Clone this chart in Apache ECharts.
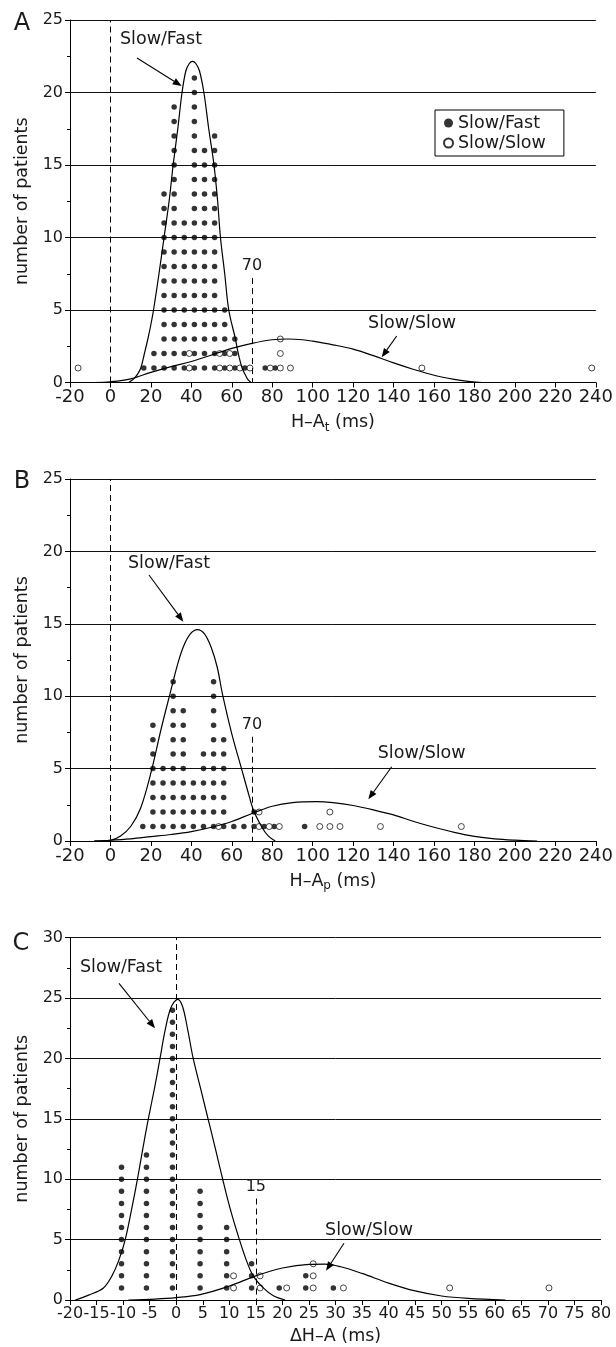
<!DOCTYPE html>
<html>
<head>
<meta charset="utf-8">
<script src="https://cdn.jsdelivr.net/npm/echarts@6.0.0/dist/echarts.min.js"></script>
<style>
html,body{margin:0;padding:0;background:#fff;}
#chart{width:616px;height:1347px;}
</style>
</head>
<body>
<div id="chart"></div>
<script>
// ---------- Panel A : H–At ----------
const aFastX = [16.5, 21.5, 26.5, 31.5, 36.5, 41.5, 46.5, 51.5, 56.5, 61.5, 66.5, 76.5, 81.5];
const aFastN = [1, 2, 13, 19, 11, 21, 16, 17, 5, 3, 1, 1, 1];
const aSlowX = [-16, 39, 54, 59, 64, 69, 79, 84, 89, 154, 238];
const aSlowN = [1, 2, 2, 2, 1, 1, 1, 3, 1, 1, 1];
const aFastCurve = [[9,0],[11.5,0.25],[13.5,0.6],[15,1],[16.8,2],[18.5,3],[20,4],[21.3,5],[24,7.5],[26.5,10],[29,12.5],[31,15],[33.3,17.5],[35.4,20],[37.3,21.5],[39,22],[40.6,22.15],[42.2,22],[44,21.5],[46.2,20],[48.6,17.5],[51.2,15],[53,12.5],[54.4,10],[56.5,7.5],[58.5,5],[61.8,3],[63.2,2],[65.1,1],[66.8,0.5],[68,0.2],[69.5,0]];
const aSlowCurve = [[-8,0],[0,0.05],[10,0.25],[20,0.7],[30,1.1],[40,1.45],[50,1.9],[60,2.35],[70,2.7],[80,2.95],[88,3.0],[95,2.95],[100,2.85],[110,2.6],[120,2.3],[130,1.85],[140,1.35],[150,0.9],[160,0.5],[170,0.22],[178,0.06],[184,0]];
const aXTicks = {min: -20, max: 240, step: 20};
const aYTicks = {min: 0, max: 25, step: 5};
const aCut = 70;

// ---------- Panel B : H–Ap ----------
const bFastX = [16, 21, 26, 31, 36, 41, 46, 51, 56, 61, 66, 71, 76, 81, 96];
const bFastN = [1, 8, 5, 11, 9, 4, 6, 11, 7, 1, 1, 2, 1, 1, 1];
const bSlowX = [53.5, 73.5, 78.5, 83.5, 103.5, 108.5, 113.5, 133.5, 173.5];
const bSlowN = [1, 2, 1, 1, 1, 2, 1, 1, 1];
const bFastCurve = [[-8,0],[0,0.05],[5,0.35],[10,1.0],[15,2.3],[20,4.7],[25,7.7],[29.5,10.2],[33,12.1],[36,13.4],[39.5,14.3],[43,14.6],[46.5,14.3],[50,13.3],[52.8,12],[55.6,10],[60,7.4],[65,4.9],[68,3.4],[70.8,2.1],[74.9,0.95],[78,0.35],[81.5,0]];
const bSlowCurve = [[-8,0],[0,0.05],[10,0.15],[20,0.3],[30,0.45],[40,0.65],[50,0.95],[60,1.35],[70,1.9],[80,2.4],[90,2.65],[102,2.72],[110,2.65],[120,2.45],[130,2.15],[140,1.8],[150,1.35],[160,0.95],[170,0.6],[180,0.32],[190,0.15],[200,0.06],[211,0]];
const bXTicks = {min: -20, max: 240, step: 20};
const bYTicks = {min: 0, max: 25, step: 5};
const bCut = 70;

// ---------- Panel C : ΔH–A ----------
const cFastX = [-10.3, -5.6, -0.7, 4.5, 9.5, 14.2, 19.4, 24.4, 29.6];
const cFastN = [11, 12, 24, 9, 6, 3, 1, 2, 1];
const cSlowX = [10.8, 15.8, 20.8, 25.8, 31.5, 51.5, 70.2];
const cSlowN = [2, 2, 1, 3, 1, 1, 1];
const cFastCurve = [[-19,0],[-16.5,0.4],[-13.7,1],[-12.1,2],[-10.8,3.3],[-9.6,5],[-8.4,7.5],[-7.3,10],[-6.3,12.5],[-5.25,15],[-4.1,17.5],[-3.05,20],[-2.1,22.3],[-1.0,24.2],[0.3,24.9],[1.2,24.3],[2.2,22.3],[3.2,20],[4.6,17.5],[6.0,15],[7.4,12.5],[8.75,10],[10.2,7.5],[11.9,5],[13.2,3.3],[14.5,2],[16.4,1],[18.3,0.35],[20.5,0]];
const cSlowCurve = [[-9,0],[-4,0.08],[0,0.2],[4.5,0.45],[10,1.15],[15,2],[20,2.65],[25,2.95],[28,2.97],[31,2.75],[35,2.2],[40,1.4],[45,0.75],[50,0.33],[55,0.13],[62,0]];
const cXTicks = {min: -20, max: 80, step: 5};
const cYTicks = {min: 0, max: 30, step: 5};
const cCut = 15;

// ---------- helpers ----------
const FONT = 'DejaVu Sans';
const INK = '#1a1a1a';

function stack(xs, ns) {
  const pts = [];
  xs.forEach((x, i) => { for (let k = 1; k <= ns[i]; k++) pts.push([x, k]); });
  return pts;
}

function xAxisCfg(idx, t, name, labelSize, nameGap) {
  return {
    gridIndex: idx, type: 'value', min: t.min, max: t.max, interval: t.step,
    axisLine: {show: true, onZero: false, lineStyle: {color: '#000', width: 1}},
    axisTick: {show: true, inside: false, length: 5, lineStyle: {color: '#000'}},
    axisLabel: {fontSize: labelSize, color: INK, margin: 6, fontFamily: FONT},
    splitLine: {show: false},
    name: name, nameLocation: 'middle', nameGap: nameGap,
    nameTextStyle: {fontSize: 17.5, color: INK, fontFamily: FONT,
      rich: {sub: {fontSize: 12, color: INK, fontFamily: FONT, verticalAlign: 'bottom', lineHeight: 22}}}
  };
}

function yAxisCfg(idx, t) {
  return {
    gridIndex: idx, type: 'value', min: t.min, max: t.max, interval: t.step,
    axisLine: {show: true, onZero: false, lineStyle: {color: '#000', width: 1}},
    axisTick: {show: true, inside: false, length: 5, lineStyle: {color: '#000'}},
    minorTick: {show: true, splitNumber: 2, length: 3, lineStyle: {color: '#000'}},
    splitLine: {show: true, lineStyle: {color: '#111', width: 1}},
    axisLabel: {fontSize: 16, color: INK, margin: 7, fontFamily: FONT},
    name: 'number of patients', nameLocation: 'middle', nameGap: 27,
    nameTextStyle: {fontSize: 17.5, color: INK, fontFamily: FONT}
  };
}

const dash = {color: '#000', width: 1, type: [6, 4]};

function panelSeries(idx, fastX, fastN, slowX, slowN, fastCurve, slowCurve, cut, cutTop) {
  return [
    {
      name: 'Slow/Fast', type: 'scatter', xAxisIndex: idx, yAxisIndex: idx,
      data: stack(fastX, fastN), symbol: 'circle', symbolSize: 5.5,
      itemStyle: {color: '#000'}, z: 3
    },
    {
      name: 'Slow/Slow', type: 'scatter', xAxisIndex: idx, yAxisIndex: idx,
      data: stack(slowX, slowN), symbol: 'circle', symbolSize: 6,
      itemStyle: {color: '#fff', borderColor: '#000', borderWidth: 0.9}, z: 4
    },
    {
      name: 'fitFast' + idx, type: 'line', xAxisIndex: idx, yAxisIndex: idx,
      data: fastCurve, smooth: 0.35, showSymbol: false, symbol: 'none',
      lineStyle: {color: '#000', width: 1.2}, z: 5,
      markLine: {
        silent: true, symbol: ['none', 'none'], animation: false,
        lineStyle: dash,
        data: [
          {xAxis: 0, label: {show: false}},
          [
            {coord: [cut, cutTop], label: {show: true, position: 'start', formatter: String(cut),
              fontSize: 16, color: INK, fontFamily: FONT, distance: 4}},
            {coord: [cut, 0]}
          ]
        ]
      }
    },
    {
      name: 'fitSlow' + idx, type: 'line', xAxisIndex: idx, yAxisIndex: idx,
      data: slowCurve, smooth: 0.35, showSymbol: false, symbol: 'none',
      lineStyle: {color: '#000', width: 1.2}, z: 5
    }
  ];
}

function arrow(x1, y1, x2, y2) {
  const dx = x2 - x1, dy = y2 - y1, L = Math.hypot(dx, dy);
  const ux = dx / L, uy = dy / L, hl = 9, hw = 3.5;
  const bx = x2 - ux * hl, by = y2 - uy * hl;
  return [
    {type: 'line', shape: {x1: x1, y1: y1, x2: bx, y2: by}, style: {stroke: '#000', lineWidth: 1.1}},
    {type: 'polygon', shape: {points: [[x2, y2], [bx - uy * hw, by + ux * hw], [bx + uy * hw, by - ux * hw]]}, style: {fill: '#000'}}
  ];
}

function label(text, cx, cy, size) {
  return {type: 'text', x: cx, y: cy,
    style: {text: text, fontSize: size, fontFamily: FONT, fill: INK, align: 'center', verticalAlign: 'middle'}};
}

const graphics = [
  label('A', 22, 24, 24), label('B', 22, 482, 24), label('C', 21, 944, 24),
  label('Slow/Fast', 161, 39, 17.5), ...arrow(137, 58, 181.7, 86),
  label('Slow/Slow', 412, 323, 17.5), ...arrow(396.7, 336, 381.7, 357.3),
  label('Slow/Fast', 169, 563, 17.5), ...arrow(149, 575, 183.3, 621.7),
  label('Slow/Slow', 421.7, 753, 17.5), ...arrow(391.7, 766.7, 368.3, 799.3),
  label('Slow/Fast', 121, 967, 17.5), ...arrow(119, 983.3, 155, 1028.3),
  label('Slow/Slow', 369, 1230, 17.5), ...arrow(344, 1243.3, 326, 1270.7)
];

const option = {
  animation: false,
  textStyle: {fontFamily: FONT, color: INK},
  grid: [
    {left: 70, top: 20, width: 529, height: 362.5, containLabel: false},
    {left: 70, top: 479, width: 529, height: 362, containLabel: false},
    {left: 70, top: 937.7, width: 531, height: 362.3, containLabel: false}
  ],
  xAxis: [
    xAxisCfg(0, aXTicks, 'H–A{sub|t} (ms)', 18, 29),
    xAxisCfg(1, bXTicks, 'H–A{sub|p} (ms)', 18, 29),
    xAxisCfg(2, cXTicks, 'ΔH–A (ms)', 16, 27)
  ],
  yAxis: [yAxisCfg(0, aYTicks), yAxisCfg(1, bYTicks), yAxisCfg(2, cYTicks)],
  legend: {
    data: ['Slow/Fast', 'Slow/Slow'], orient: 'vertical', left: 435, top: 110,
    selectedMode: false, itemWidth: 9, itemHeight: 9, itemGap: 2,
    padding: [4, 18, 4, 8], borderColor: '#000', borderWidth: 1,
    textStyle: {fontSize: 17.5, color: INK, fontFamily: FONT}
  },
  series: [
    ...panelSeries(0, aFastX, aFastN, aSlowX, aSlowN, aFastCurve, aSlowCurve, aCut, 7.2),
    ...panelSeries(1, bFastX, bFastN, bSlowX, bSlowN, bFastCurve, bSlowCurve, bCut, 7.2),
    ...panelSeries(2, cFastX, cFastN, cSlowX, cSlowN, cFastCurve, cSlowCurve, cCut, 8.4)
  ],
  graphic: graphics
};

const chart = echarts.init(document.getElementById('chart'), null, {renderer: 'canvas'});
chart.setOption(option);
</script>
</body>
</html>
